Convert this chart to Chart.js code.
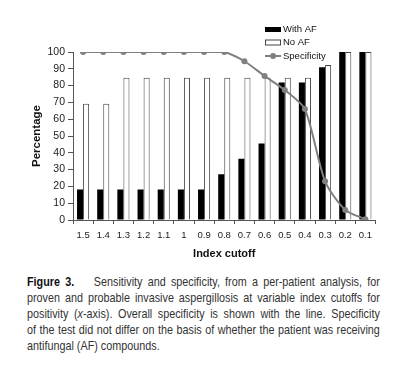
<!DOCTYPE html>
<html>
<head>
<meta charset="utf-8">
<script src="https://cdn.jsdelivr.net/npm/chart.js@4/dist/chart.umd.min.js"></script>
<style>
  html, body { margin: 0; padding: 0; background: #fff; }
  #wrap { position: relative; width: 398px; height: 384px; overflow: hidden; }
  #box { position: absolute; left: 0; top: 0; width: 398px; height: 268px; }
  #caption {
    position: absolute; left: 27px; top: 274.3px; width: 441px;
    transform: scale(0.8, 1); transform-origin: left top;
    font-family: "Liberation Sans", Arial, sans-serif;
    font-size: 13.5px; line-height: 16px; color: #333;
  }
  #caption .ln { white-space: nowrap; text-align: justify; text-align-last: justify; }
  #caption .ln.last { text-align-last: left; }
  #caption b { color: #111; margin-right: 18px; }
</style>
</head>
<body>
<div id="wrap">
  <div id="box"><canvas id="c"></canvas></div>
  <div id="caption">
    <div class="ln"><b>Figure 3.</b> Sensitivity and specificity, from a per-patient analysis, for</div>
    <div class="ln">proven and probable invasive aspergillosis at variable index cutoffs for</div>
    <div class="ln">positivity (<i>x</i>-axis). Overall specificity is shown with the line. Specificity</div>
    <div class="ln">of the test did not differ on the basis of whether the patient was receiving</div>
    <div class="ln last">antifungal (AF) compounds.</div>
  </div>
</div>
<script>
const categories = ["1.5","1.4","1.3","1.2","1.1","1","0.9","0.8","0.7","0.6","0.5","0.4","0.3","0.2","0.1"];
const withAF = [18.2,18.2,18.2,18.2,18.2,18.2,18.2,27.3,36.4,45.5,81.8,81.8,90.9,100,100];
const noAF = [69.2,69.2,84.6,84.6,84.6,84.6,84.6,84.6,84.6,84.6,84.6,84.6,92.3,100,100];
const specificity = [100,100,100,100,100,100,100,100,94.5,85.7,77.4,66,23,6,0.5];
const yTicks = [0,10,20,30,40,50,60,70,80,90,100];
const seriesNames = ["With AF","No AF","Specificity"];

const legendPlugin = {
  id: 'customLegend',
  afterDraw(chart) {
    const ctx = chart.ctx;
    ctx.save();
    ctx.font = '9.5px "Liberation Sans", Arial, sans-serif';
    ctx.textBaseline = 'middle';
    const x0 = 265, tx = 283;
    const rows = [29.5, 42.5, 56];
    ctx.fillStyle = '#000';
    ctx.fillRect(x0, rows[0] - 2.5, 16, 5);
    ctx.fillStyle = '#fff';
    ctx.fillRect(x0 + 0.5, rows[1] - 2.5, 15, 5);
    ctx.strokeStyle = '#444';
    ctx.lineWidth = 1;
    ctx.strokeRect(x0 + 0.5, rows[1] - 2.5, 15, 5);
    ctx.strokeStyle = '#808080';
    ctx.lineWidth = 2;
    ctx.beginPath(); ctx.moveTo(x0, rows[2]); ctx.lineTo(x0 + 16, rows[2]); ctx.stroke();
    ctx.fillStyle = '#808080';
    ctx.beginPath(); ctx.arc(x0 + 8, rows[2], 3, 0, Math.PI * 2); ctx.fill();
    ctx.fillStyle = '#111';
    seriesNames.forEach((n, i) => ctx.fillText(n, tx, rows[i]));
    ctx.restore();
  }
};

new Chart(document.getElementById('c'), {
  data: {
    labels: categories,
    datasets: [
      { type: 'line', label: seriesNames[2], data: specificity, borderColor: '#808080', backgroundColor: '#808080',
        borderWidth: 2, pointRadius: 3, pointBackgroundColor: '#808080', pointBorderWidth: 0, tension: 0.25, order: 0 },
      { type: 'bar', label: seriesNames[0], data: withAF, backgroundColor: '#000', borderColor: '#000', borderWidth: 0,
        categoryPercentage: 0.6, barPercentage: 1.0, order: 1 },
      { type: 'bar', label: seriesNames[1], data: noAF, backgroundColor: '#fff', borderColor: '#444', borderWidth: 1,
        categoryPercentage: 0.6, barPercentage: 1.0, order: 1 }
    ]
  },
  options: {
    responsive: true, maintainAspectRatio: false, animation: false,
    layout: { padding: { left: 0, right: 22.5, top: 52, bottom: 0 } },
    plugins: { legend: { display: false }, tooltip: { enabled: false } },
    scales: {
      x: {
        afterFit(s) { s.height = 48; },
        grid: { display: true, drawOnChartArea: false, drawTicks: true, tickLength: 4, color: '#555', offset: true },
        border: { display: true, color: '#555', width: 1 },
        ticks: { color: '#222', font: { family: '"Liberation Sans", Arial, sans-serif', size: 9.5 }, padding: 6, maxRotation: 0, autoSkip: false },
        title: { display: true, text: 'Index cutoff', color: '#111', font: { family: '"Liberation Sans", Arial, sans-serif', size: 11, weight: 'bold' }, padding: { top: 0, bottom: 7.4 } }
      },
      y: {
        min: 0, max: 100,
        afterFit(s) { s.width = 73; },
        afterBuildTicks(s) { s.ticks = yTicks.map(v => ({ value: v })); },
        grid: { display: true, drawOnChartArea: false, drawTicks: true, tickLength: 5, color: '#555' },
        border: { display: true, color: '#555', width: 1 },
        ticks: { color: '#222', font: { family: '"Liberation Sans", Arial, sans-serif', size: 10.5 }, padding: 3 },
        title: { display: true, text: 'Percentage', color: '#111', font: { family: '"Liberation Sans", Arial, sans-serif', size: 11.5, weight: 'bold' }, padding: { top: 30, bottom: 0 } }
      }
    }
  },
  plugins: [legendPlugin]
});
</script>
</body>
</html>
